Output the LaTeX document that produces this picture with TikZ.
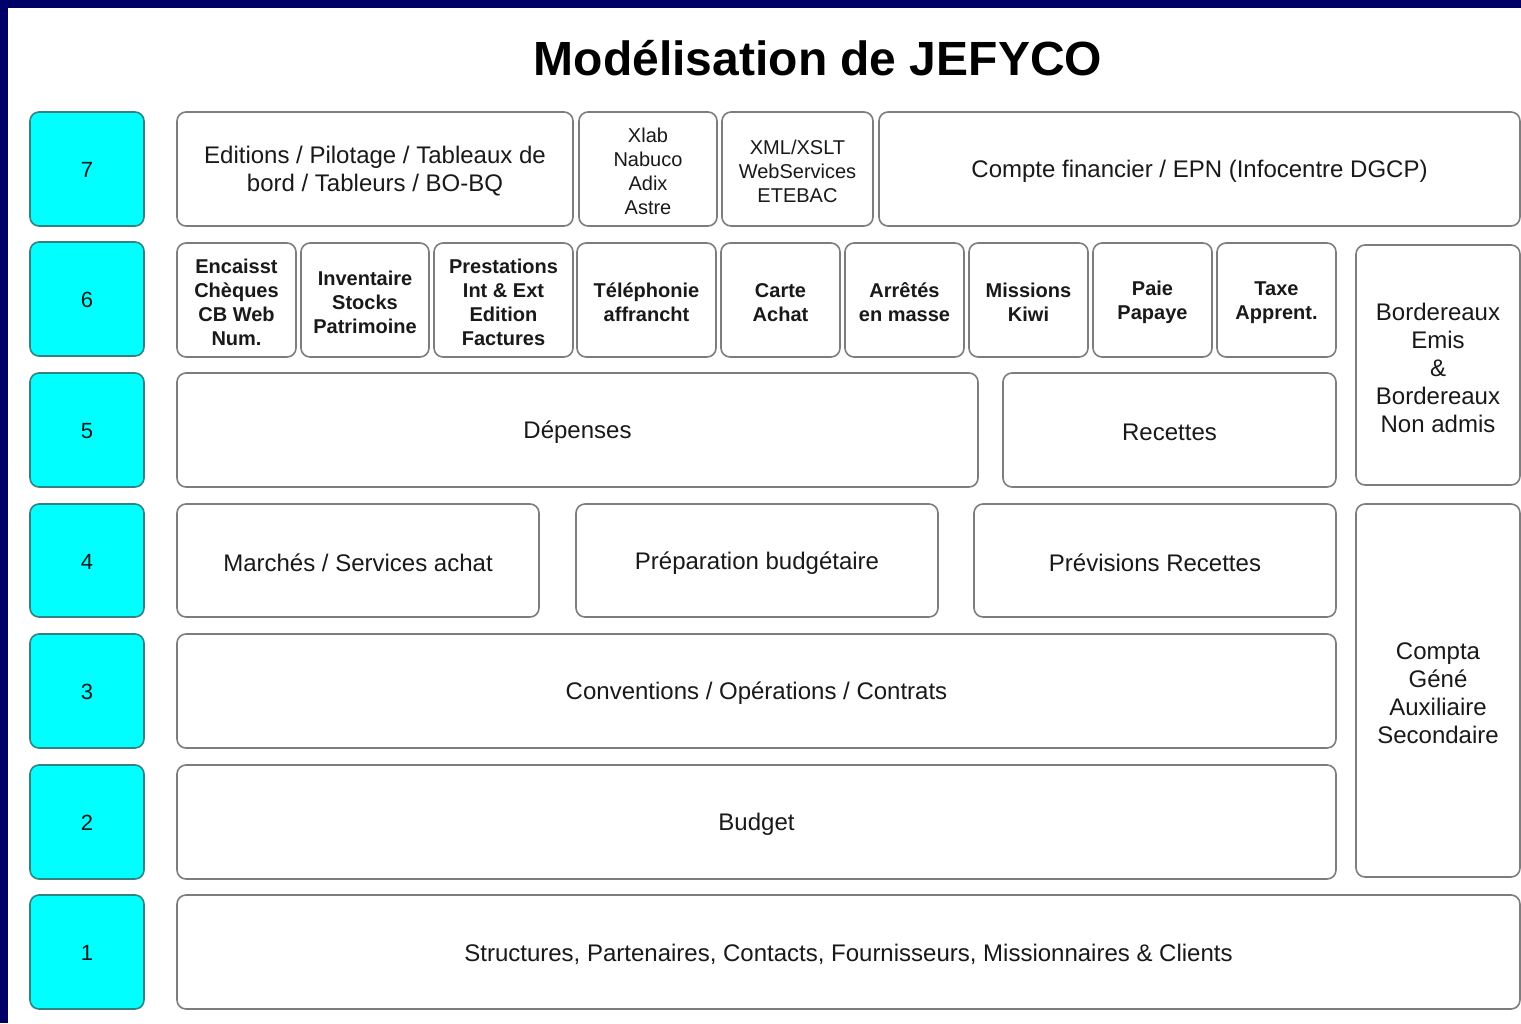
\documentclass[tikz,border=0pt]{standalone}
\usepackage{fontspec}
\setmainfont{Liberation Sans}
\definecolor{navy}{RGB}{0,0,102}
\definecolor{boxline}{RGB}{125,125,125}
\definecolor{cyanfill}{RGB}{0,255,255}
\definecolor{cyanline}{RGB}{50,130,130}
\definecolor{txt}{RGB}{25,25,25}
\tikzset{
  frame/.style={draw=boxline, line width=1.6pt, rounded corners=9pt, fill=white, inner sep=0pt},
  numframe/.style={draw=cyanline, line width=1.6pt, rounded corners=9pt, fill=cyanfill, inner sep=0pt},
  box/.style={align=center, inner sep=0pt, text=txt, font=\fontsize{24}{28}\selectfont},
  smallbox/.style={box, font=\fontsize{20}{24}\selectfont},
  boldbox/.style={box, font=\bfseries\fontsize{20}{24}\selectfont},
  numbox/.style={box, font=\fontsize{22}{26}\selectfont},
}
% \bx[text style][frame style]{name}{x1}{y1}{x2}{y2}{text}
\newcommand\bx[7][box]{\node[frame, minimum width={(#5-#3)*1pt}, minimum height={(#6-#4)*1pt}] (#2) at ({(#3+#5)/2},{(#4+#6)/2}) {};
  \node[#1, yshift=-2.5pt] (#2t) at (#2.center) {#7};}
\newcommand\nb[6]{\node[numframe, minimum width={(#5-#3)*1pt}, minimum height={(#6-#4)*1pt}] (#1) at ({(#3+#5)/2},{(#4+#6)/2}) {};
  \node[numbox, yshift=-1pt] (#1t) at (#1.center) {#2};}
\begin{document}
\begin{tikzpicture}[x=1pt,y=-1pt]
\useasboundingbox (0,0) rectangle (1521,1023);
\fill[white] (0,0) rectangle (1521,1023);
\fill[navy] (0,0) rectangle (1521,8);
\fill[navy] (0,0) rectangle (8,1023);
\node[font=\bfseries\fontsize{48}{54}\selectfont, text=black] (title) at (818,58) {Modélisation de JEFYCO};
% level numbers
\nb{n7}{7}{30}{112}{144}{226}
\nb{n6}{6}{30}{242}{144}{356}
\nb{n5}{5}{30}{373}{144}{487}
\nb{n4}{4}{30}{504}{144}{617}
\nb{n3}{3}{30}{634}{144}{748}
\nb{n2}{2}{30}{765}{144}{879}
\nb{n1}{1}{30}{895}{144}{1009}
% row 7
\bx{edit}{177}{112}{573}{226}{Editions / Pilotage / Tableaux de\\bord / Tableurs / BO-BQ}
\bx[smallbox]{xlab}{579}{112}{717}{226}{Xlab\\Nabuco\\Adix\\Astre}
\bx[smallbox]{xml}{722}{112}{873}{226}{XML/XSLT\\WebServices\\ETEBAC}
\bx{compte}{879}{112}{1520}{226}{Compte financier / EPN (Infocentre DGCP)}
% row 6
\bx[boldbox]{enc}{177}{243}{296}{357}{Encaisst\\Chèques\\CB Web\\Num.}
\bx[boldbox]{inv}{301}{243}{429}{357}{Inventaire\\Stocks\\Patrimoine}
\bx[boldbox]{prest}{434}{243}{573}{357}{Prestations\\Int \& Ext\\Edition\\Factures}
\bx[boldbox]{tel}{577}{243}{716}{357}{Téléphonie\\affrancht}
\bx[boldbox]{carte}{721}{243}{840}{357}{Carte\\Achat}
\bx[boldbox]{arr}{845}{243}{964}{357}{Arrêtés\\en masse}
\bx[boldbox]{miss}{969}{243}{1088}{357}{Missions\\Kiwi}
\bx[boldbox]{paie}{1093}{243}{1212}{357}{Paie\\Papaye}
\bx[boldbox]{taxe}{1217}{243}{1336}{357}{Taxe\\Apprent.}
\bx{bord}{1356}{245}{1520}{485}{Bordereaux\\Emis\\\&\\Bordereaux\\Non admis}
% row 5
\bx{dep}{177}{373}{978}{487}{Dépenses}
\bx{rec}{1003}{373}{1336}{487}{Recettes}
% row 4
\bx{march}{177}{504}{539}{617}{Marchés / Services achat}
\bx{prep}{576}{504}{938}{617}{Préparation budgétaire}
\bx{prev}{974}{504}{1336}{617}{Prévisions Recettes}
\bx{compta}{1356}{504}{1520}{877}{Compta\\Géné\\Auxiliaire\\Secondaire}
% rows 3-1
\bx{conv}{177}{634}{1336}{748}{Conventions / Opérations / Contrats}
\bx{budget}{177}{765}{1336}{879}{Budget}
\bx{struct}{177}{895}{1520}{1009}{Structures, Partenaires, Contacts, Fournisseurs, Missionnaires \& Clients}
\end{tikzpicture}
\end{document}
